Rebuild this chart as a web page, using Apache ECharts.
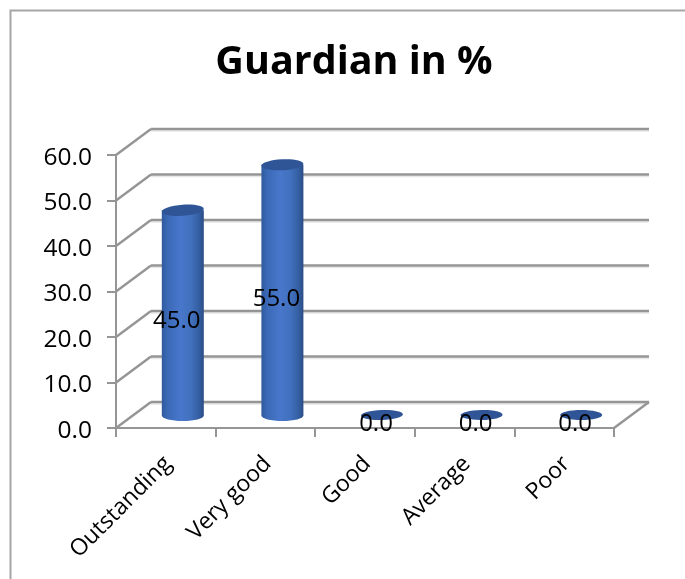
<!DOCTYPE html>
<html><head><meta charset="utf-8">
<style>html,body{margin:0;padding:0;background:#fff}#c{width:685px;height:579px}</style>
<script src="https://cdn.jsdelivr.net/npm/echarts@6/dist/echarts.min.js"></script>
</head><body><div id="c"></div>
<script>
const categories = ["Outstanding","Very good","Good","Average","Poor"];
const values = [45.0,55.0,0.0,0.0,0.0];
const yTicks = [0,10,20,30,40,50,60];
const titleText = "Guardian in %";
const FONT = '"Open Sans", sans-serif';
const DX = 35, DY = -26, AXIS = '#959595';

const chart = echarts.init(document.getElementById('c'), null, {renderer:'canvas'});

function renderWall(params, api){
  const tick = api.value(1);
  const band = api.size([1,0])[0];
  const p = api.coord([0,tick]);
  const x0 = p[0]-band/2, x1 = x0+band*categories.length, y = p[1];
  const line = (a,b,c,d,col,w)=>({type:'line',shape:{x1:a,y1:b,x2:c,y2:d},style:{stroke:col,lineWidth:w}});
  const ch = [
    line(x0+DX,y+DY+2,x1+DX,y+DY+2,'#e6e6e6',1.5),
    line(x0+DX,y+DY,x1+DX,y+DY,AXIS,2.4),
    line(x0,y,x0+DX,y+DY,AXIS,2.4)
  ];
  if(tick===0) ch.push(line(x1,y,x1+DX,y+DY,AXIS,2.4));
  return {type:'group',children:ch};
}
function renderCyl(params, api){
  const i = api.value(0), v = api.value(1);
  const top = api.coord([i,v]), base = api.coord([i,0]);
  const cx = base[0]+17, by = base[1]+DY/2, ty = top[1]+DY/2;
  const rx = 21, ry = 5.5;
  const grad = new echarts.graphic.LinearGradient(0,0,1,0,[
    {offset:0,color:'#2f5a9e'},{offset:.15,color:'#3c6ab8'},{offset:.45,color:'#4877cb'},
    {offset:.7,color:'#4170bd'},{offset:.88,color:'#355fa3'},{offset:1,color:'#2b4d86'}]);
  const rot = (categories.length-1-i)*Math.PI/180;
  const ch = [];
  if(v>0){
    ch.push({type:'ellipse',shape:{cx,cy:by+0.5,rx,ry},style:{fill:grad}});
    ch.push({type:'rect',shape:{x:cx-rx,y:ty,width:2*rx,height:by-ty},style:{fill:grad}});
  }
  ch.push({type:'ellipse',originX:cx,originY:ty,rotation:rot,shape:{cx,cy:ty,rx,ry:ry-(v>0?0:0.5)},style:{fill:'#2f5597'}});
  const mid = (top[1]+base[1])/2;
  ch.push({type:'text',x:base[0]+11,y:mid-4,style:{text:v.toFixed(1),font:'24px '+FONT,fill:'#000',align:'center',verticalAlign:'middle'}});
  return {type:'group',children:ch};
}

chart.setOption({
  animation:false,
  backgroundColor:'#fff',
  title:{text:titleText,left:349,top:38,textAlign:'center',textStyle:{fontFamily:FONT,fontSize:39.5,fontWeight:'bold',color:'#000'}},
  graphic:[{type:'polyline',silent:true,shape:{points:[[10.5,579],[10.5,10.5],[685,10.5]]},style:{stroke:'#a6a6a6',lineWidth:2,fill:null}}],
  grid:{left:116,right:71,top:155,bottom:151},
  xAxis:{type:'category',data:categories,
    axisLine:{lineStyle:{color:AXIS,width:2}},
    axisTick:{show:true,length:9,alignWithLabel:false,lineStyle:{color:AXIS,width:2}},
    axisLabel:{rotate:45,interval:0,margin:30,fontFamily:FONT,fontSize:23,color:'#000',
      formatter:s=>'{a|'+s+'}',rich:{a:{fontFamily:FONT,fontSize:23,color:'#000',padding:[6,0,0,0]}}},
    splitLine:{show:false}},
  yAxis:{type:'value',min:0,max:60,interval:10,
    axisLine:{show:true,lineStyle:{color:AXIS,width:2}},
    axisTick:{show:true,length:9,lineStyle:{color:AXIS,width:2}},
    axisLabel:{margin:24,fontFamily:FONT,fontSize:24.5,color:'#000',
      formatter:v=>'{a|'+v.toFixed(1)+'}',rich:{a:{fontFamily:FONT,fontSize:24.5,color:'#000',padding:[6,0,0,0]}}},
    splitLine:{show:false}},
  series:[
    {type:'custom',name:'walls',silent:true,z:1,clip:false,data:yTicks.map(t=>[0,t]),encode:{x:0,y:1},renderItem:renderWall},
    {type:'custom',name:'Guardian in %',z:3,clip:false,data:values.map((v,i)=>[i,v]),encode:{x:0,y:1},renderItem:renderCyl}
  ]
});
</script></body></html>
